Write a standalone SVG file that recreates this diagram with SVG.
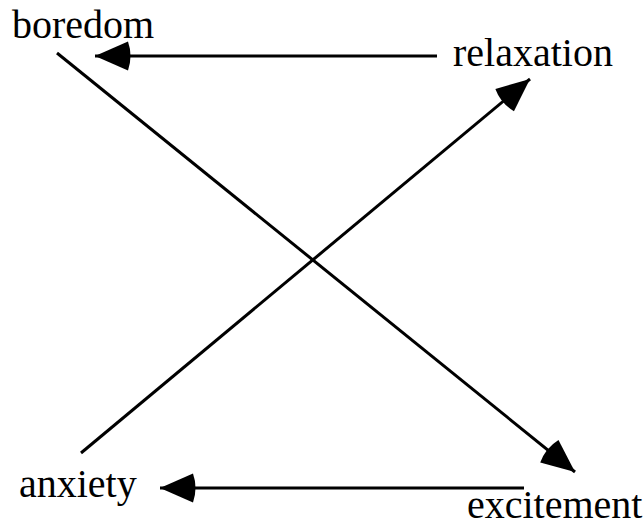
<svg xmlns="http://www.w3.org/2000/svg" width="644" height="531" viewBox="0 0 644 531">
<style>
text{font-family:"Liberation Serif","Times New Roman",serif;font-size:40px;fill:#000}
.c{stroke:#000;stroke-width:3;fill:none;marker-end:url(#ah)}
</style>
<defs>
<marker id="ah" markerUnits="userSpaceOnUse" markerWidth="44" markerHeight="34" viewBox="-40 -16 44 32" refX="0" refY="0" orient="auto">
<path d="M0,0 L-33,-14.5 Q-38,0 -33,14.5 Z" fill="#000"/>
</marker>
</defs>
<rect width="644" height="531" fill="#fff"/>
<g id="connectors">
<line class="c" x1="437" y1="56" x2="95" y2="56"/>
<line class="c" x1="57" y1="53" x2="575" y2="472"/>
<line class="c" x1="81" y1="453" x2="530" y2="79"/>
<line class="c" x1="524" y1="488" x2="160" y2="488"/>
</g>
<g id="boredom"><text x="12" y="38">boredom</text></g>
<g id="relaxation"><text x="453" y="66">relaxation</text></g>
<g id="anxiety"><text x="19" y="497">anxiety</text></g>
<g id="excitement"><text x="467" y="518">excitement</text></g>
</svg>
